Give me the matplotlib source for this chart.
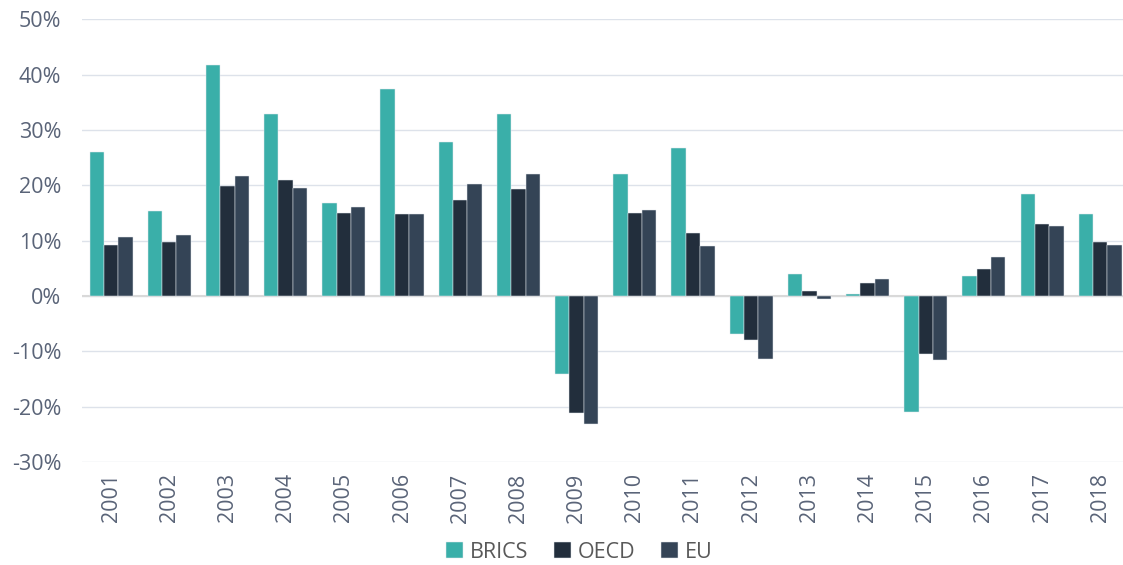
import numpy as np
import matplotlib
matplotlib.use('Agg')
import matplotlib.pyplot as plt
from matplotlib.ticker import FuncFormatter

years = [str(y) for y in range(2001, 2019)]
brics = [26.0, 15.4, 41.8, 32.8, 16.8, 37.4, 27.8, 32.9, -14.1, 22.0,
         26.7, -6.8, 3.9, 0.45, -21.0, 3.7, 18.4, 14.9]
oecd = [9.3, 9.8, 19.8, 20.9, 15.0, 14.9, 17.4, 19.4, -21.1, 15.0,
        11.3, -8.0, 0.9, 2.3, -10.5, 4.9, 13.1, 9.8]
eu = [10.7, 11.0, 21.6, 19.6, 16.0, 14.9, 20.2, 22.0, -23.1, 15.5,
      9.1, -11.3, -0.6, 3.0, -11.5, 7.0, 12.7, 9.3]

series = [('BRICS', brics, '#3aafa9'), ('OECD', oecd, '#222e3c'), ('EU', eu, '#344456')]

plt.rcParams['font.family'] = ['Open Sans', 'DejaVu Sans']

fig = plt.figure(figsize=(11.23, 5.65), dpi=100)
ax = fig.add_axes([0.073, 0.182, 0.927, 0.784])

x = np.arange(len(years))
w = 0.247
for i, (name, vals, col) in enumerate(series):
    ax.bar(x + (i - 1) * w, vals, w, color=col, edgecolor='#e3e8ee',
           linewidth=0.35, label=name, zorder=3)

ax.set_ylim(-30, 50)
ax.set_xlim(-0.5, 17.39)
ax.set_yticks(range(-30, 51, 10))
ax.yaxis.set_major_formatter(FuncFormatter(lambda v, p: f'{v:.0f}%'))
ax.set_xticks(x)
ax.set_xticklabels(years, rotation=90)
ax.grid(axis='y', color='#dde2ea', linewidth=1, zorder=0)
ax.axhline(0, color='#d9d9d9', linewidth=1.5, zorder=2)
for s in ax.spines.values():
    s.set_visible(False)
ax.tick_params(axis='both', length=0, labelsize=15.5, colors='#5a6478')
ax.tick_params(axis='y', pad=15)
ax.tick_params(axis='x', pad=8)

handles, labels = ax.get_legend_handles_labels()
leg = fig.legend(handles, labels, loc='center', bbox_to_anchor=(0.516, 0.023),
                 ncol=3, frameon=False, fontsize=15.5, handlelength=0.8,
                 handleheight=0.8, handletextpad=0.3, columnspacing=1.2)
for t in leg.get_texts():
    t.set_color('#595959')

fig.savefig('out.png', dpi=100)
